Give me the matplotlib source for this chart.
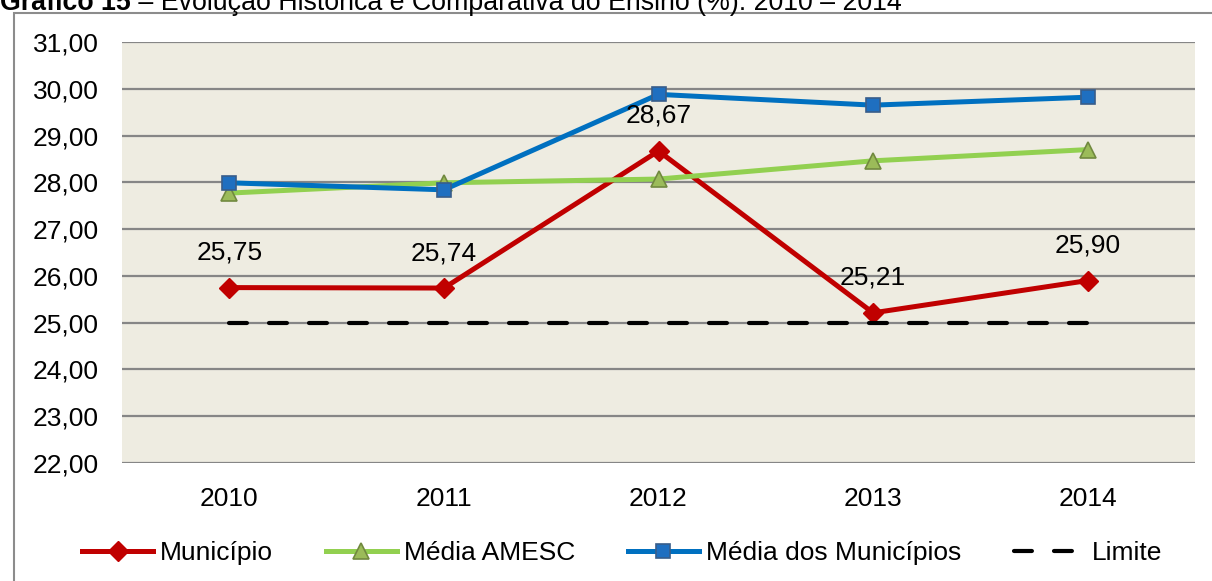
import matplotlib
matplotlib.use("Agg")
import matplotlib.pyplot as plt
from matplotlib.patches import Rectangle

plt.rcParams['font.family'] = ['Liberation Sans', 'DejaVu Sans']

# data
anos = ["2010", "2011", "2012", "2013", "2014"]
municipio = [25.75, 25.74, 28.67, 25.21, 25.90]
media_amesc = [27.77, 27.99, 28.07, 28.46, 28.70]
media_municipios = [27.99, 27.84, 29.88, 29.65, 29.82]
limite = [25.0, 25.0, 25.0, 25.0, 25.0]
yticks = [22, 23, 24, 25, 26, 27, 28, 29, 30, 31]

W, H = 1212, 581
fig = plt.figure(figsize=(W / 100, H / 100), dpi=100)

# outer chart frame (only left and top edges visible)
fig.patches.append(Rectangle((14 / W, -0.1), 1.2, 1 - 13 / H + 0.1,
                             transform=fig.transFigure, fill=False,
                             edgecolor="#8c8c8c", linewidth=1.5))

# title, partly cut off at the top as in the source
t1 = fig.text(0.0, 1 - 10 / H, "Gráfico 15", fontsize=19.3, fontweight="bold",
              ha="left", va="baseline")
fig.canvas.draw()
bb = t1.get_window_extent()
fig.text(bb.x1 / W, 1 - 10 / H,
         " – Evolução Histórica e Comparativa do Ensino (%): 2010 – 2014",
         fontsize=19.3, ha="left", va="baseline")

ax = fig.add_axes([122 / W, 1 - 463 / H, (1195 - 122) / W, (463 - 42) / H])
ax.set_facecolor("#EEECE1")
x = list(range(len(anos)))

ax.plot(x, municipio, color="#C00000", lw=3.6, marker="D", ms=10,
        mfc="#C00000", mec="#C00000", label="Município", zorder=3)
ax.plot(x, media_amesc, color="#92D050", lw=3.6, marker="^", ms=11,
        mfc="#9BBB59", mec="#71893F", mew=1.2, label="Média AMESC", zorder=4)
ax.plot(x, media_municipios, color="#0070C0", lw=3.6, marker="s", ms=10.5,
        mfc="#1F6FC0", mec="#385D8A", mew=1.2, label="Média dos Municípios", zorder=5)
ax.plot(x, limite, color="black", lw=3, linestyle=(0, (4.3, 5.3)),
        dash_capstyle="round", label="Limite", zorder=6)

for xi, v in zip(x, municipio):
    ax.annotate(f"{v:.2f}".replace(".", ","), (xi, v), xytext=(0, 35),
                textcoords="offset pixels", ha="center", va="center",
                fontsize=19, zorder=7)

ax.set_xlim(-0.5, len(anos) - 0.5)
ax.set_ylim(22, 31)
ax.set_yticks(yticks)
ax.set_yticklabels([f"{v:.2f}".replace(".", ",") for v in yticks])
ax.set_xticks(x)
ax.set_xticklabels(anos)
ax.tick_params(axis="both", length=0, labelsize=19)
ax.tick_params(axis="y", pad=17)
ax.tick_params(axis="x", pad=17)
ax.grid(axis="y", color="#868686", lw=1.6, zorder=0)
ax.set_axisbelow(True)
for s in ax.spines.values():
    s.set_visible(False)

fig.legend(loc="center", bbox_to_anchor=(0.5 + 16 / W, 1 - 553 / H), ncol=4,
           frameon=False, fontsize=19, handlelength=2.7, handletextpad=0.25,
           columnspacing=2.0)

fig.savefig("out.png", dpi=100)
